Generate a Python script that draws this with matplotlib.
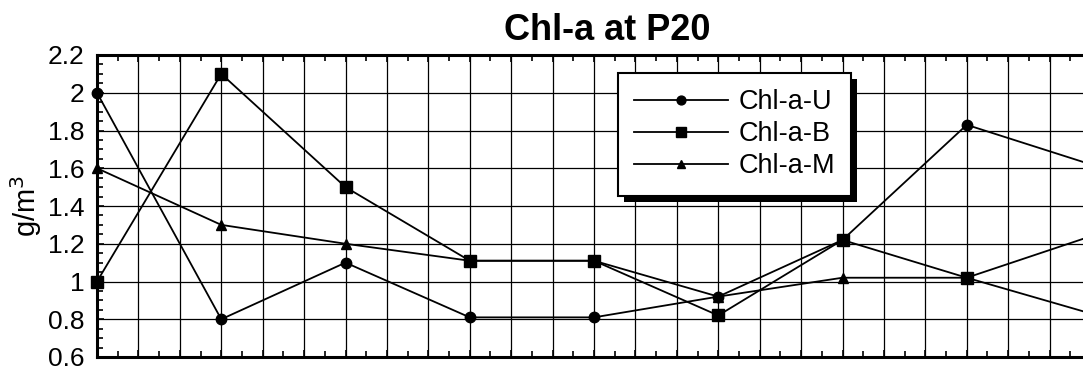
import matplotlib
matplotlib.use('Agg')
import matplotlib.pyplot as plt
from matplotlib.ticker import MultipleLocator, NullFormatter
from matplotlib.patches import Rectangle

plt.rcParams['font.family'] = ['Liberation Sans', 'DejaVu Sans']

# sampling points (equally spaced, unlabeled)
samples = [0, 1, 2, 3, 4, 5, 6, 7, 8]
chl_u = [2.0, 0.8, 1.1, 0.81, 0.81, 0.92, 1.22, 1.83, 1.62]
chl_b = [1.0, 2.1, 1.5, 1.11, 1.11, 0.82, 1.22, 1.02, 1.24]
chl_m = [1.6, 1.3, 1.2, 1.11, 1.11, 0.92, 1.02, 1.02, 0.83]

fig = plt.figure(figsize=(10.83, 3.69), dpi=100)
ax = fig.add_axes([97 / 1083, 1 - 357 / 369, 994 / 1083, 302 / 369])

ax.plot(samples, chl_u, color='black', lw=1.3, marker='o', ms=7.5, clip_on=False, label='Chl-a-U', zorder=5)
ax.plot(samples, chl_b, color='black', lw=1.3, marker='s', ms=8, clip_on=False, label='Chl-a-B', zorder=5)
ax.plot(samples, chl_m, color='black', lw=1.3, marker='^', ms=7.5, clip_on=False, label='Chl-a-M', zorder=5)

ax.set_xlim(0, 8)
ax.set_ylim(0.6, 2.2)

ax.xaxis.set_major_locator(MultipleLocator(1 / 3))
ax.xaxis.set_minor_locator(MultipleLocator(1 / 6))
ax.xaxis.set_major_formatter(NullFormatter())
ax.yaxis.set_minor_locator(MultipleLocator(0.05))
ax.set_yticks([0.6, 0.8, 1.0, 1.2, 1.4, 1.6, 1.8, 2.0, 2.2])
ax.set_yticklabels(['0.6', '0.8', '1', '1.2', '1.4', '1.6', '1.8', '2', '2.2'])

ax.grid(True, which='major', color='black', lw=0.9)
ax.tick_params(which='both', direction='in', top=True, right=False, width=1.2)
ax.tick_params(which='major', length=5, labelsize=19, pad=9)
ax.tick_params(which='minor', length=4)
for s in ['left', 'top', 'bottom']:
    ax.spines[s].set_linewidth(2.2)
ax.spines['right'].set_visible(False)

ax.set_ylabel('g/m$^3$', fontsize=21, labelpad=3)
fig.text(607 / 1083, 1 - 40 / 369, 'Chl-a at P20', fontsize=26, fontweight='bold',
         ha='center', va='baseline')

leg = ax.legend(loc='upper left', bbox_to_anchor=(0.524, 0.94), borderaxespad=0,
                fontsize=19.5, handlelength=3.45, handletextpad=0.4, labelspacing=0.22,
                markerscale=0.85, fancybox=False, framealpha=1, edgecolor='black',
                borderpad=0.6)
leg.get_frame().set_linewidth(1.5)
leg.set_zorder(10)

# offset black shadow behind the legend box
fig.canvas.draw()
bb = leg.get_window_extent()
inv = ax.transAxes.inverted()
(x0, y0), (x1, y1) = inv.transform([[bb.x0 + 6, bb.y0 - 6], [bb.x1 + 6, bb.y1 - 6]])
ax.add_patch(Rectangle((x0, y0), x1 - x0, y1 - y0, transform=ax.transAxes,
                       facecolor='black', edgecolor='none', zorder=9, clip_on=False))

fig.savefig('out.png', dpi=100)
